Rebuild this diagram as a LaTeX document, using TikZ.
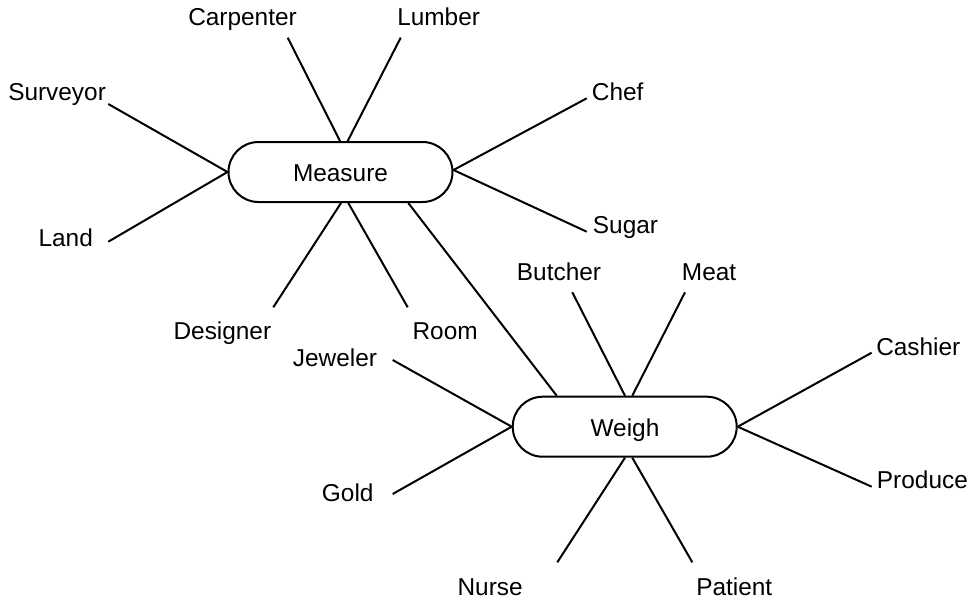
\documentclass[tikz,border=0pt]{standalone}
\usepackage{fontspec}
\setmainfont{Liberation Sans}
\usetikzlibrary{calc}
\begin{document}
\begin{tikzpicture}[x=0.75pt,y=-0.75pt,
  hub/.style={draw,line width=1.5pt,rectangle,rounded corners=22.5pt,
    minimum width=168pt,minimum height=45pt,inner sep=0pt,font=\fontsize{18.3}{22}\selectfont},
  lbl/.style={anchor=base west,inner sep=0pt,font=\fontsize{18.3}{22}\selectfont},
  link/.style={line width=1.5pt}]
\useasboundingbox (0,0) rectangle (972,600);
% hubs
\node[hub] (m) at (340.5,172) {};
\node[lbl,anchor=base] (mt) at (340.5,181.7) {Measure};
\node[hub] (w) at (624.7,426.7) {};
\node[lbl,anchor=base] (wt) at (625,436) {Weigh};
% labels
\node[lbl] (carp) at (188,25) {Carpenter};
\node[lbl] (lumb) at (397,25) {Lumber};
\node[lbl] (surv) at (8,100.7) {Surveyor};
\node[lbl] (land) at (38.3,246.7) {Land};
\node[lbl] (chef) at (591.7,100) {Chef};
\node[lbl] (sugar) at (592.7,233.5) {Sugar};
\node[lbl] (desi) at (173.3,339.3) {Designer};
\node[lbl] (room) at (412.3,339.3) {Room};
\node[lbl] (butc) at (516.7,280.7) {Butcher};
\node[lbl] (meat) at (681.7,280.7) {Meat};
\node[lbl] (jewe) at (292.7,366.7) {Jeweler};
\node[lbl] (gold) at (321.7,501.7) {Gold};
\node[lbl] (cash) at (876,355) {Cashier};
\node[lbl] (prod) at (876.7,488.3) {Produce};
\node[lbl] (nurse) at (457.3,595) {Nurse};
\node[lbl] (pati) at (696,595) {Patient};
% free ends
\coordinate (carpE) at (287.7,37.7);
\coordinate (lumbE) at (400.7,37.7);
\coordinate (survE) at (108.3,104);
\coordinate (landE) at (108.3,241.7);
\coordinate (chefE) at (586.7,98.3);
\coordinate (sugarE) at (586.7,231.7);
\coordinate (desiE) at (273.3,307.3);
\coordinate (roomE) at (407.7,307.3);
\coordinate (butcE) at (572.3,292.3);
\coordinate (meatE) at (685,292.3);
\coordinate (jeweE) at (392.7,360);
\coordinate (goldE) at (392.7,494);
\coordinate (cashE) at (871.7,352.7);
\coordinate (prodE) at (871.7,486.7);
\coordinate (nurseE) at (557.3,562.3);
\coordinate (patiE) at (692.3,562.3);
% Measure connectors
\draw[link] ($(m.north)+(-0.5,0)$) -- (carpE);
\draw[link] ($(m.north)+(7.2,0)$) -- (lumbE);
\draw[link] (m.west) -- (survE);
\draw[link] (m.west) -- (landE);
\draw[link] ($(m.east)+(0,-2)$) -- (chefE);
\draw[link] ($(m.east)+(0,-2)$) -- (sugarE);
\draw[link] ($(m.south)+(0.5,0)$) -- (desiE);
\draw[link] ($(m.south)+(7.8,0)$) -- (roomE);
\draw[link] ($(m.south)+(67.8,0)$) -- ($(w.north)+(-68,0)$);
% Weigh connectors
\draw[link] ($(w.north)+(0.3,0)$) -- (butcE);
\draw[link] ($(w.north)+(7.6,0)$) -- (meatE);
\draw[link] (w.east) -- (cashE);
\draw[link] (w.east) -- (prodE);
\draw[link] (w.west) -- (jeweE);
\draw[link] (w.west) -- (goldE);
\draw[link] ($(w.south)+(0.3,0)$) -- (nurseE);
\draw[link] ($(w.south)+(7.6,0)$) -- (patiE);
\end{tikzpicture}
\end{document}
